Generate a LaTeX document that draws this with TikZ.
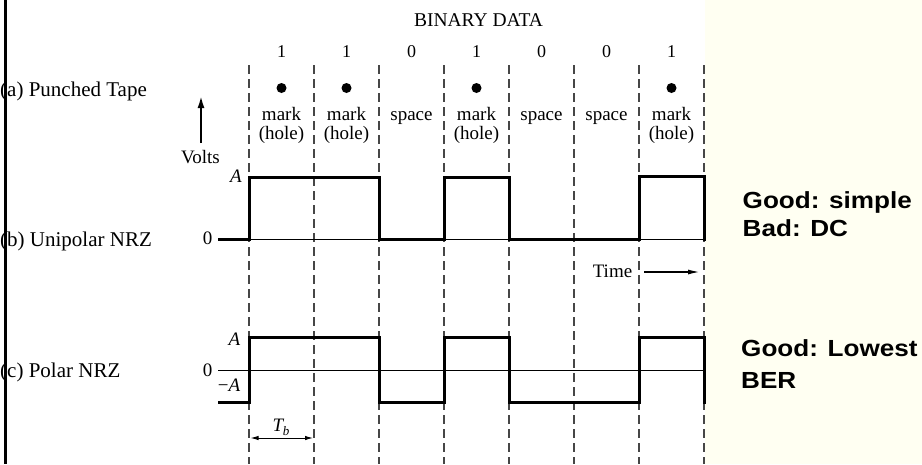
\documentclass[tikz,border=0pt]{standalone}
\usepackage{fontspec}
\setmainfont{Liberation Serif}
\newfontfamily\notefont[FakeStretch=1.12]{Liberation Sans}
\usetikzlibrary{arrows.meta}
\definecolor{cream}{RGB}{255,255,242}
\definecolor{gridgray}{RGB}{70,70,70}
\begin{document}
\begin{tikzpicture}[x=1pt,y=-1pt,
  lbl/.style={inner sep=0pt, font=\fontsize{21}{24}\selectfont, anchor=base west},
  txt/.style={inner sep=0pt, font=\fontsize{19}{22}\selectfont, anchor=base},
  rtxt/.style={inner sep=0pt, font=\fontsize{19}{22}\selectfont, anchor=base east},
  note/.style={inner sep=0pt, font=\notefont\bfseries\fontsize{23.3}{28}\selectfont, anchor=base west},
  gridline/.style={draw=gridgray, line width=1.2pt, dash pattern=on 9pt off 5pt},
  wave/.style={line width=3pt, line join=miter},
  axisline/.style={line width=0.9pt},
  hole/.style={circle, fill=black, inner sep=0pt, minimum size=10pt},
]
\useasboundingbox (0,0) rectangle (922,464);
\fill[white] (0,0) rectangle (922,464);
\fill[cream] (705,0) rectangle (922,464);

% dashed bit boundaries
\foreach \i in {0,...,7}{
  \coordinate (gt\i) at (249+65*\i,65);
  \coordinate (gb\i) at (249+65*\i,464);
  \draw[gridline] (gt\i) -- (gb\i);
}

% title and bits
\node[txt, font=\fontsize{19.5}{22}\selectfont] (title) at (478.5,26) {BINARY DATA};
\foreach \b [count=\i from 0] in {1,1,0,1,0,0,1}{
  \node[txt, font=\fontsize{18}{22}\selectfont] (bit\i) at (281.5+65*\i,57) {\b};
}
% punched tape row
\foreach \i in {0,1,3,6}{
  \node[hole] (dot\i) at (281.5+65*\i,88) {};
  \node[txt] (mark\i) at (281.5+65*\i,120.5) {mark};
  \node[txt] (holetxt\i) at (281.5+65*\i,139.5) {(hole)};
}
\foreach \i in {2,4,5}{
  \node[txt] (space\i) at (281.5+65*\i,120.5) {space};
}

% row labels
\node[lbl] (la) at (0,96.7) {(a) Punched Tape};
\node[lbl] (lb) at (0,246.7) {(b) Unipolar NRZ};
\node[lbl] (lc) at (0,377) {(c) Polar NRZ};

% volts axis
\node[txt] (volts) at (200.5,163) {Volts};
\coordinate (vbot) at (201,143);
\coordinate (vtop) at (201,96);
\draw[line width=2pt, -{Latex[length=12pt,width=7pt]}] (vbot) -- (vtop);

% unipolar NRZ
\node[rtxt] (ua) at (242,182.5) {\textit{A}};
\node[rtxt] (uz) at (212.5,244) {0};
\draw[axisline] (218,239) -- (704,239);
\draw[wave] (218,239) -- (249,239) -- (249,177) -- (379,177) -- (379,239)
  -- (444,239) -- (444,177) -- (509,177) -- (509,239) -- (639,239)
  -- (639,176) -- (704,176) -- (704,240.5);

% time arrow
\node[txt] (time) at (612.5,277.5) {Time};
\coordinate (ts) at (644,272);
\coordinate (te) at (700,272);
\draw[line width=1.5pt, -{Latex[length=12pt,width=5pt]}] (ts) -- (te);

% polar NRZ
\node[rtxt] (pa) at (240.5,345) {\textit{A}};
\node[rtxt] (pz) at (212.5,376.5) {0};
\node[rtxt] (pma) at (240.5,391.7) {−\textit{A}};
\draw[axisline] (218,370) -- (704,370);
\draw[wave] (218,402) -- (249,402) -- (249,337) -- (379,337) -- (379,402)
  -- (444,402) -- (444,337) -- (509,337) -- (509,402) -- (639,402)
  -- (639,337) -- (704,337) -- (704,404);

% bit period
\node[txt] (tb) at (281,431.7) {\textit{T\kern-0.5pt\raisebox{-4pt}{\fontsize{13}{13}\selectfont b}}};
\coordinate (tbl) at (250.5,438);
\coordinate (tbr) at (313,438);
\draw[line width=1pt, {Latex[length=8pt,width=4.5pt]}-{Latex[length=8pt,width=4.5pt]}] (tbl) -- (tbr);

% notes
\node[note] (good1) at (742.5,208) {Good: simple};
\node[note] (bad) at (742.5,236.7) {Bad: DC};
\node[note] (good2) at (741,356.5) {Good: Lowest};
\node[note] (ber) at (741,388) {BER};

% left border
\draw[line width=3pt] (5,0) -- (5,464);
\end{tikzpicture}
\end{document}
